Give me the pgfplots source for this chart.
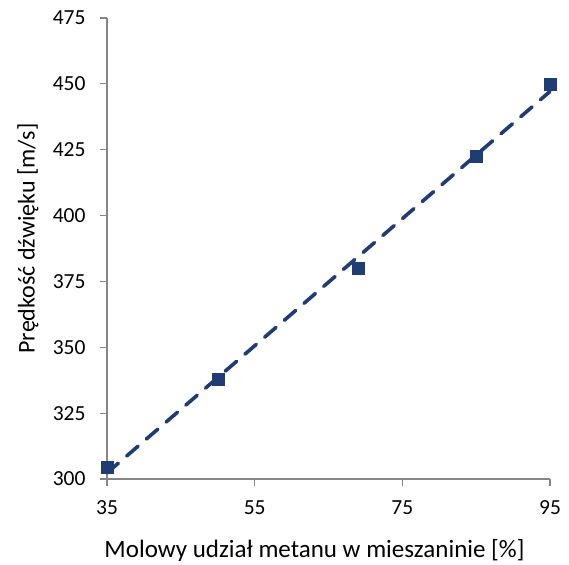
\documentclass[border=0pt]{standalone}
\usepackage{pgfplots}
\pgfplotsset{compat=1.18}
\usepackage{fontspec}
\setmainfont{Carlito}
\definecolor{mk}{HTML}{1F3C73}
\definecolor{ax}{HTML}{868686}
\begin{document}
\begin{tikzpicture}
\begin{axis}[
  at={(0,0)}, anchor=south west,
  scale only axis, width=443bp, height=461bp,
  xmin=35, xmax=95, ymin=300, ymax=475,
  xtick={35,55,75,95}, ytick={300,325,...,475},
  axis x line*=bottom, axis y line*=left,
  axis line style={ax, line width=1.2bp},
  tick style={ax, line width=1.2bp},
  tick align=outside, major tick length=7bp,
  /pgf/number format/assume math mode=true,
  ticklabel style={font=\fontsize{21.5bp}{25bp}\selectfont, text=black},
  xticklabel style={yshift=-11bp},
  yticklabel style={xshift=-11bp},
  xlabel={Molowy udział metanu w mieszaninie [\%]},
  ylabel={Prędkość dźwięku [m/s]},
  xlabel style={font=\fontsize{25bp}{29bp}\selectfont, at={([xshift=-14bp,yshift=-71bp]axis description cs:0.5,0)}, anchor=center},
  ylabel style={font=\fontsize{24bp}{28bp}\selectfont, at={([xshift=-79bp,yshift=10bp]axis description cs:0,0.5)}, anchor=center},
  clip=false,
]
\addplot[mk, line width=3.6bp, line cap=round, dash pattern=on 15bp off 11bp] coordinates {(35,302.3) (95,447.1)};
\addplot[only marks, mark=square*, mark size=6bp, mark options={fill=mk, draw=mk}] coordinates {
(35,304.6) (50,338) (69,380) (85,422.6) (95,450)};
\end{axis}
\useasboundingbox (-107bp,-84bp) rectangle (462bp,479bp);
\end{tikzpicture}
\end{document}
